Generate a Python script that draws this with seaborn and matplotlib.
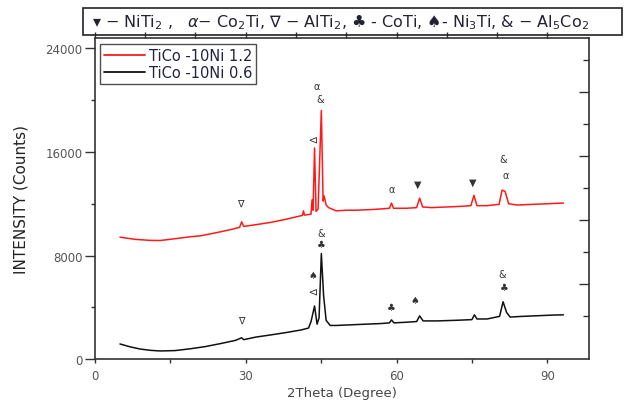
import matplotlib
matplotlib.use("Agg")
import matplotlib.pyplot as plt
import numpy as np
import pandas as pd
import seaborn as sns
from matplotlib.patches import Rectangle
from matplotlib.ticker import MultipleLocator

red_theta = [5, 8, 11, 13, 16, 19, 21, 24, 27, 28.8, 29.2, 29.6, 32, 35, 38, 40,
             41.3, 41.5, 41.7, 43.0, 43.2, 43.4, 43.7, 44.0, 44.4, 45.05, 45.4, 45.6,
             46.0, 46.5, 48, 50, 52, 55, 57, 58.6, 59.0, 59.4, 62, 64.0, 64.6, 65.2,
             67, 70, 73, 74.8, 75.4, 76.0, 78, 80.4, 81.0, 81.6, 82.3, 84, 87, 90, 93.2]
red_counts = [9420, 9250, 9170, 9160, 9300, 9450, 9520, 9750, 10000, 10180, 10600, 10250,
              10380, 10560, 10800, 10980, 11100, 11450, 11120, 11200, 12300, 11500, 16300,
              11400, 11600, 19200, 12200, 12600, 11900, 11700, 11450, 11500, 11500, 11550,
              11600, 11650, 12050, 11650, 11650, 11700, 12430, 11750, 11700, 11750, 11800,
              11850, 12650, 11850, 11850, 11950, 13050, 12950, 12000, 11900, 11950, 12000,
              12050]

black_theta = [5, 7, 9, 11, 13, 16, 19, 22, 25, 28, 29.2, 29.6, 32, 35, 38, 41, 42.5,
               43.0, 43.7, 44.2, 44.6, 45.05, 45.5, 46.0, 46.8, 48, 51, 54, 57, 58.6,
               59.0, 59.5, 62, 64.0, 64.6, 65.3, 68, 72, 75.0, 75.5, 76.0, 78, 80.5,
               81.2, 81.9, 82.6, 85, 88, 91, 93.2]
black_counts = [1170, 950, 780, 680, 630, 660, 800, 970, 1200, 1450, 1650, 1500, 1700,
                1870, 2050, 2250, 2400, 2900, 4100, 2700, 3200, 8150, 4900, 3000, 2600,
                2600, 2650, 2700, 2750, 2800, 3030, 2800, 2850, 2900, 3340, 2950, 2950,
                3000, 3050, 3420, 3100, 3100, 3300, 4430, 3600, 3250, 3300, 3350, 3400,
                3420]

samples = ["TiCo -10Ni 1.2", "TiCo -10Ni 0.6"]

# phase markers above the peaks
red_marks = ["\u2207", "\u2207", "\u03b1", "&", "\u03b1", "\u25bc", "\u25bc", "&", "\u03b1"]
red_mark_x = [29.0, 43.3, 44.1, 44.9, 59.0, 64.2, 75.1, 81.3, 81.7]
red_mark_y = [12039, 17165, 21126, 20116, 13126, 13515, 13670, 15456, 14213]
red_mark_rot = [0, -90, 0, 0, 0, 0, 0, 0, 0]

black_marks = ["\u2207", "\u2660", "\u2207", "&", "\u2663", "\u2663", "\u2660", "&", "\u2663"]
black_mark_x = [29.2, 43.3, 43.3, 45.1, 45.1, 59.0, 63.6, 81.1, 81.5]
black_mark_y = [3029, 6524, 5359, 9709, 8854, 4039, 4583, 6602, 5592]
black_mark_rot = [0, 0, -90, 0, 0, 0, 0, 0, 0]

header = (r"$\blacktriangledown$ $-$ NiTi$_2$ ,   $\alpha$$-$ Co$_2$Ti, $\nabla$ $-$ AlTi$_2$, "
          "\u2663 - CoTi, \u2660- Ni$_3$Ti, & $-$ Al$_5$Co$_2$")

df = pd.concat([
    pd.DataFrame({"theta": red_theta, "counts": red_counts, "sample": samples[0]}),
    pd.DataFrame({"theta": black_theta, "counts": black_counts, "sample": samples[1]}),
])

sns.set_style("ticks")
plt.rcParams["font.family"] = ["DejaVu Sans"]
ink = "#333333"

fig = plt.figure(figsize=(6.24, 4.06), dpi=100)
ax = fig.add_axes([0.152, 0.113, 0.792, 0.791])

sns.lineplot(data=df, x="theta", y="counts", hue="sample", sort=False, estimator=None,
             palette={samples[0]: "#ff1a1a", samples[1]: "#111111"}, linewidth=1.1,
             ax=ax, legend=False)

for txt, x, y, r in zip(red_marks, red_mark_x, red_mark_y, red_mark_rot):
    ax.text(x, y, txt, ha="center", va="center", fontsize=7, rotation=r, color=ink)
for txt, x, y, r in zip(black_marks, black_mark_x, black_mark_y, black_mark_rot):
    ax.text(x, y, txt, ha="center", va="center", fontsize=7, rotation=r, color=ink)

ax.set_xlim(0, 98.3)
ax.set_ylim(0, 24800)
ax.xaxis.set_major_locator(MultipleLocator(30))
ax.xaxis.set_minor_locator(MultipleLocator(15))
ax.yaxis.set_major_locator(MultipleLocator(8000))
ax.yaxis.set_minor_locator(MultipleLocator(4000))
ax.tick_params(axis="y", which="major", direction="out", length=7, width=1, color=ink,
               labelsize=8.5, labelcolor="#555555", pad=2)
ax.tick_params(axis="y", which="minor", direction="out", length=3, width=1, color=ink)
ax.tick_params(axis="x", which="both", direction="out", length=3, width=1, color=ink,
               labelsize=8.5, labelcolor="#555555", pad=4)
for s in ax.spines.values():
    s.set_visible(True)
    s.set_linewidth(1.2)
    s.set_color(ink)

ax.set_xlabel("2Theta (Degree)", fontsize=9.5, color="#444444", labelpad=3)
ax.set_ylabel("INTENSITY (Counts)", fontsize=11, color="#222222", labelpad=12)

# top and right tick rows of the original frame
top = ax.secondary_xaxis("top")
top.xaxis.set_major_locator(MultipleLocator(10))
top.tick_params(direction="out", length=4, width=1, color=ink, labeltop=False)
top.spines["top"].set_visible(False)

right = ax.twinx()
right.set_ylim(0, 10.03)
right.set_yticks(np.arange(2.34, 10, 2))
right.set_yticks(np.arange(1.34, 10, 2), minor=True)
right.tick_params(axis="y", which="major", direction="in", length=7, width=1, color=ink,
                  labelright=False)
right.tick_params(axis="y", which="minor", direction="in", length=4, width=1, color=ink)
for s in right.spines.values():
    s.set_visible(False)

handles = [plt.Line2D([], [], color="#ff1a1a", lw=1.3),
           plt.Line2D([], [], color="#111111", lw=1.3)]
leg = ax.legend(handles, samples, loc="upper left", bbox_to_anchor=(0.01, 0.981),
                borderaxespad=0, fontsize=10.5, frameon=True, fancybox=False,
                handlelength=2.8, handletextpad=0.25, borderpad=0.3, labelspacing=0.1)
leg.get_frame().set_edgecolor("#222222")
leg.get_frame().set_linewidth(1.0)
for t in leg.get_texts():
    t.set_color("#222244")

fig.add_artist(Rectangle((83 / 624, 1 - 36 / 406), (622 - 83) / 624, 27 / 406,
                         transform=fig.transFigure, fill=False, edgecolor="#222222", lw=1.2))
fig.text(92 / 624, 1 - 22 / 406, header, ha="left", va="center", fontsize=11.5,
         color="#222233")

fig.savefig("out.png", dpi=100)
